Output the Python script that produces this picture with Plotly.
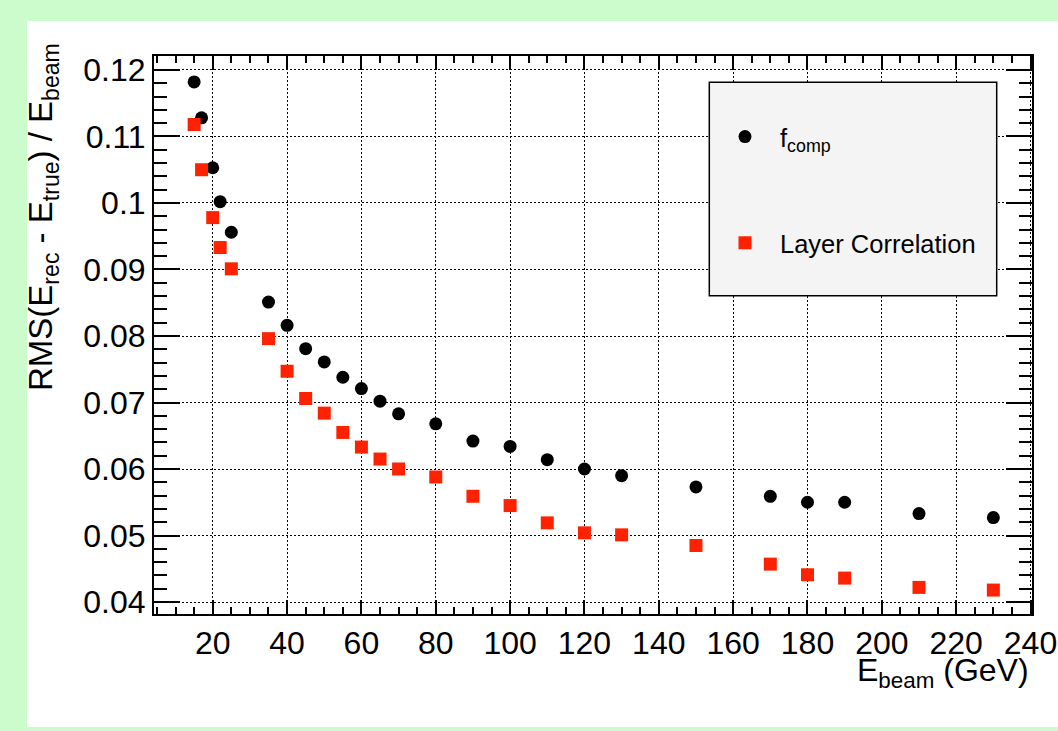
import plotly.graph_objects as go

# ---- data ----
energy = [15, 17, 20, 22, 25, 35, 40, 45, 50, 55, 60, 65, 70, 80, 90, 100,
          110, 120, 130, 150, 170, 180, 190, 210, 230]
fcomp = [0.1182, 0.1128, 0.1053, 0.1002, 0.0956, 0.0851, 0.0816, 0.0781,
         0.0761, 0.0738, 0.0721, 0.0702, 0.0683, 0.0668, 0.0642, 0.0634,
         0.0614, 0.0600, 0.0590, 0.0573, 0.0559, 0.0550, 0.0550, 0.0533,
         0.0527]
layer_corr = [0.1118, 0.1050, 0.0978, 0.0933, 0.0901, 0.0796, 0.0747, 0.0706,
              0.0684, 0.0655, 0.0633, 0.0615, 0.0600, 0.0588, 0.0559, 0.0545,
              0.0519, 0.0504, 0.0501, 0.0485, 0.0457, 0.0441, 0.0436, 0.0422,
              0.0418]
series_names = ["f<sub>comp</sub>", "Layer Correlation"]

FONT = "Liberation Sans, Arial, Helvetica, sans-serif"
W, H = 1058, 731
ML, MR, MT, MB = 154, 26, 56, 117
PW, PH = W - ML - MR, H - MT - MB


def px_x(x):
    return (x - ML) / PW


def px_y(y):
    return (H - MB - y) / PH


fig = go.Figure()
fig.add_trace(go.Scatter(
    x=energy, y=fcomp, mode="markers", name=series_names[0], legendgroup="a",
    marker=dict(symbol="circle", size=13, color="black", line=dict(width=0)),
))
fig.add_trace(go.Scatter(
    x=energy, y=layer_corr, mode="markers", name=series_names[1], legendgroup="b",
    marker=dict(symbol="square", size=13, color="#ff2200", line=dict(width=0)),
))

axis_common = dict(
    showline=True, linecolor="black", linewidth=2, mirror="allticks",
    ticks="inside", tickcolor="black", tickwidth=1.5,
    showgrid=True, gridcolor="black", gridwidth=1, griddash="2px,2px",
    zeroline=False, tickfont=dict(family=FONT, size=32, color="black"),
    automargin=False,
)

fig.update_xaxes(
    range=[4.2, 240.4], tick0=0, dtick=20, ticklen=14,
    minor=dict(dtick=5, tick0=0, ticklen=7, ticks="inside", tickcolor="black",
               tickwidth=1.5, showgrid=False),
    **axis_common,
)
fig.update_yaxes(
    range=[0.0382, 0.1221], tick0=0, dtick=0.01, ticklen=26,
    minor=dict(dtick=0.002, tick0=0, ticklen=13, ticks="inside", tickcolor="black",
               tickwidth=1.5, showgrid=False),
    **axis_common,
)

shapes = [
    # white pad
    dict(type="rect", xref="paper", yref="paper", layer="below",
         x0=px_x(27), x1=px_x(1062), y0=px_y(727), y1=px_y(21),
         fillcolor="white", line=dict(width=0)),
    # legend box
    dict(type="rect", xref="paper", yref="paper", layer="above",
         x0=px_x(709.3), x1=px_x(996.7), y0=px_y(295.7), y1=px_y(82.3),
         fillcolor="#f4f4f4", line=dict(color="black", width=1.5)),
]

annotations = [
    dict(text="RMS(E<sub>rec</sub> - E<sub>true</sub>) / E<sub>beam</sub>",
         xref="paper", yref="paper", x=px_x(43), y=px_y(41),
         xanchor="center", yanchor="top", textangle=-90, showarrow=False,
         font=dict(family=FONT, size=33, color="black")),
    dict(text="E<sub>beam</sub> (GeV)",
         xref="paper", yref="paper", x=px_x(1031), y=px_y(650),
         xanchor="right", yanchor="top", showarrow=False,
         font=dict(family=FONT, size=32, color="black")),
]

fig.update_layout(
    width=W, height=H, autosize=False,
    margin=dict(l=ML, r=MR, t=MT, b=MB, pad=0, autoexpand=False),
    paper_bgcolor="#ccfccc", plot_bgcolor="white",
    shapes=shapes, annotations=annotations,
    showlegend=True,
    legend=dict(
        x=px_x(710), y=px_y(113.5), xanchor="left", yanchor="top",
        bgcolor="rgba(0,0,0,0)", borderwidth=0,
        font=dict(family=FONT, size=25.5, color="black"),
        itemwidth=60, tracegroupgap=70, traceorder="grouped",
    ),
)

fig.write_html("out.html", config={"responsive": False})
